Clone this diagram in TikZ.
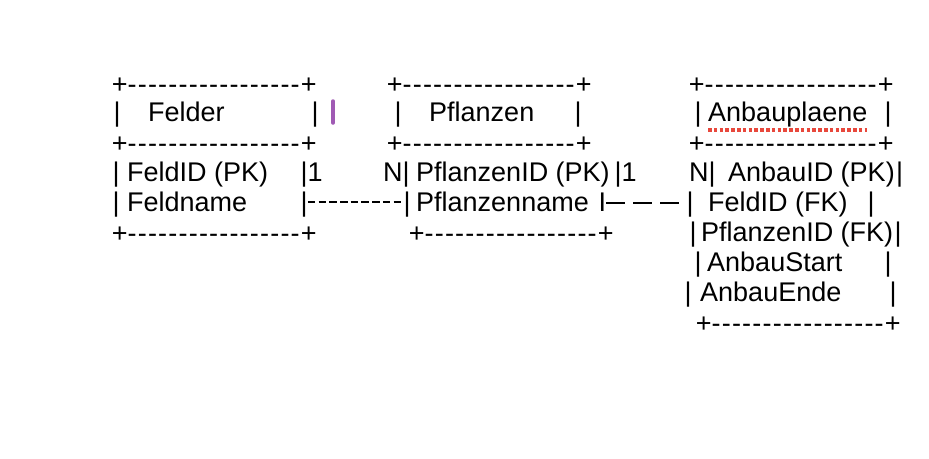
\documentclass[tikz,border=0pt]{standalone}
\usepackage{fontspec}
\setmainfont{Liberation Sans}
\usetikzlibrary{calc}
\definecolor{cursorcol}{RGB}{160,90,180}
\definecolor{spellcol}{RGB}{232,72,60}
\newcommand\hyline{+\foreach \k in {1,...,17}{-\kern1.2pt}+}

\begin{document}
\begin{tikzpicture}[x=1pt,y=-1pt,
  tx/.style={font=\fontsize{27}{30}\selectfont,inner sep=0pt,anchor=base west},
  rel/.style={line width=2.2pt},
  onetoone/.style={rel,dash pattern=on 7.5pt off 3.2pt},
  onetomany/.style={rel,dash pattern=on 19pt off 8pt},
  cursor/.style={line width=3.5pt,line cap=round,cursorcol},
  spell/.style={line width=3.5pt,spellcol,dash pattern=on 3.5pt off 2.3pt}
]
\useasboundingbox (0,0) rectangle (929,458);

% Felder
\node[tx] (ftop)  at (111.7,93)  {\hyline};
\node[tx] (fbarl) at (113.5,121) {|};
\node[tx] (fhead) at (148,121)   {Felder};
\node[tx] (fbarr) at (311.5,121) {|};
\node[tx] (fmid)  at (111.7,152) {\hyline};
\node[tx] (fid)   at (112.5,181) {| FeldID (PK)};
\node[tx] (fone)  at (300.5,181) {|1};
\node[tx] (fname) at (112.5,211) {| Feldname};
\node[tx] (fbar)  at (300.5,211) {|};
\node[tx] (fbot)  at (111.7,242) {\hyline};

% Pflanzen
\node[tx] (ptop)  at (386.7,93)  {\hyline};
\node[tx] (pbarl) at (394.5,121) {|};
\node[tx] (phead) at (429,121)   {Pflanzen};
\node[tx] (pbarr) at (574.5,121) {|};
\node[tx] (pmid)  at (386.7,152) {\hyline};
\node[tx] (pn)    at (383,181)   {N|};
\node[tx] (pid)   at (416,181)   {PflanzenID (PK)};
\node[tx] (pone)  at (614.5,181) {|1};
\node[tx] (pbar)  at (403.5,211) {|};
\node[tx] (pname) at (416,211)   {Pflanzenname};
\node[tx] (pI)    at (598.5,211) {I};
\node[tx] (pbot)  at (408.7,242) {\hyline};

% Anbauplaene
\node[tx] (atop)  at (688.7,93)  {\hyline};
\node[tx] (abarl) at (694.5,121) {|};
\node[tx] (ahead) at (708,121)   {Anbauplaene};
\node[tx] (abarr) at (884.5,121) {|};
\node[tx] (amid)  at (688.7,152) {\hyline};
\node[tx] (an)    at (689,181)   {N|};
\node[tx] (aid)   at (728,181)   {AnbauID (PK)};
\node[tx] (aidr)  at (896,181)   {|};
\node[tx] (afbar) at (686.5,211) {|};
\node[tx] (afeld) at (708,211)   {FeldID (FK)};
\node[tx] (afr)   at (867.5,211) {|};
\node[tx] (apbar) at (689.5,241) {|};
\node[tx] (apfl)  at (701,241)   {PflanzenID (FK)};
\node[tx] (apr)   at (894.5,241) {|};
\node[tx] (asbar) at (694.5,271) {|};
\node[tx] (astart) at (707,271)  {AnbauStart};
\node[tx] (asr)   at (884.5,271) {|};
\node[tx] (aebar) at (684.5,301) {|};
\node[tx] (aende) at (700,301)   {AnbauEnde};
\node[tx] (aer)   at (889.5,301) {|};
\node[tx] (abot)  at (695.7,332) {\hyline};

\draw[onetoone] ([yshift=2pt]fbar.east) -- ([yshift=2pt]pbar.west);
\draw[onetomany] ([yshift=1pt]pI.east |- afbar.west) -- ([yshift=1pt]afbar.west);

\draw[cursor] (333,101) -- (333,123);
\draw[spell] (708,130) -- (867,130);
\end{tikzpicture}
\end{document}
